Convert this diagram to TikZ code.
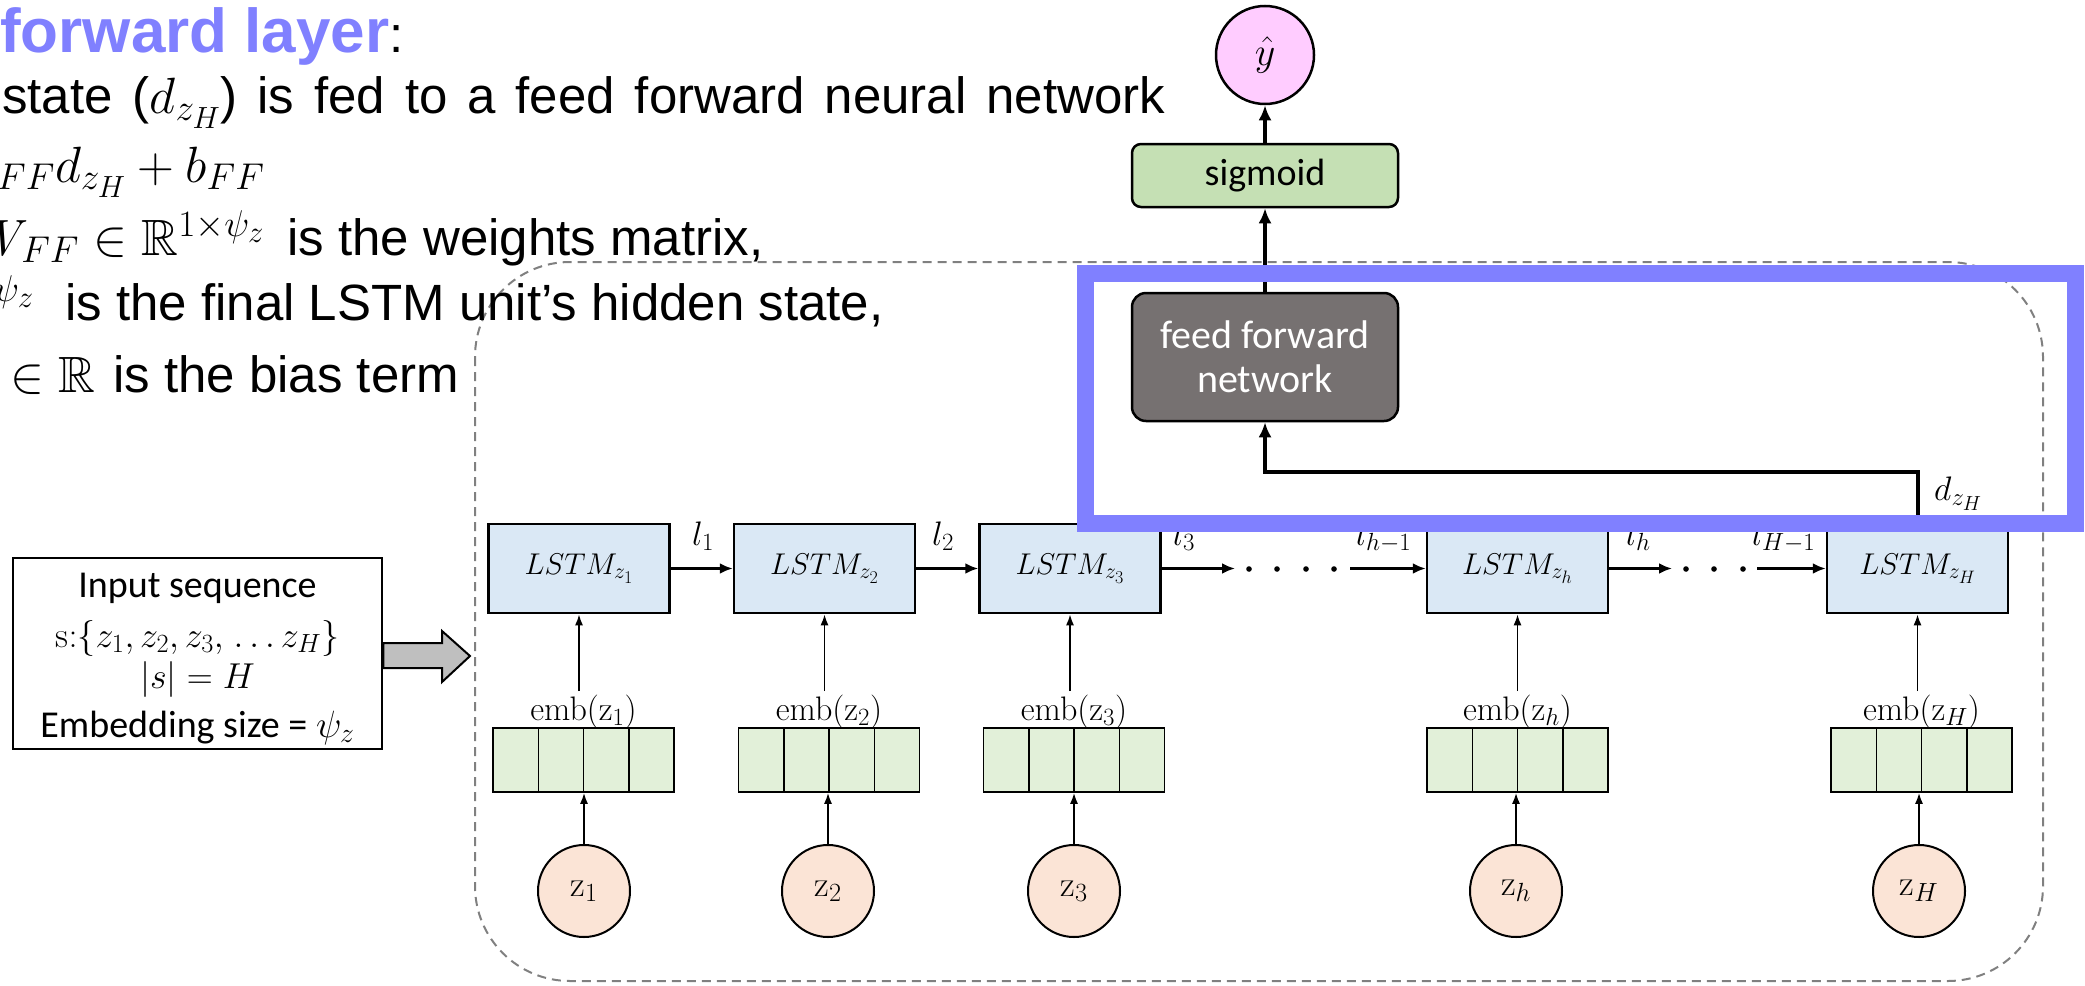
\RequirePackage{fix-cm}
\documentclass[tikz,border=0pt]{standalone}
\usepackage{amsmath,amssymb}
\usepackage{fontspec}
\renewcommand\defaultscriptratio{.73}
\renewcommand\defaultscriptscriptratio{.6}
\newfontfamily\arialf{Liberation Sans}
\newfontfamily\calf{Carlito}
\usetikzlibrary{arrows.meta,calc}
\definecolor{lav}{RGB}{128,128,255}
\definecolor{lstmblue}{RGB}{218,232,245}
\definecolor{embgreen}{RGB}{226,240,217}
\definecolor{zpeach}{RGB}{251,228,214}
\definecolor{yhpink}{RGB}{255,204,255}
\definecolor{sigg}{RGB}{197,224,180}
\definecolor{ffgray}{RGB}{118,113,113}
\definecolor{dashg}{RGB}{128,128,128}
\definecolor{blockg}{RGB}{191,191,191}
\newcommand\bodyf{\arialf\fontsize{51}{60}\selectfont}
\begin{document}
\begin{tikzpicture}[x=1pt,y=-1pt,
  txt/.style={anchor=base west, inner sep=0},
  ctxt/.style={anchor=base, inner sep=0},
  lstmbox/.style={draw, line width=2.5, fill=lstmblue, minimum width=181, minimum height=89, inner sep=0, font=\fontsize{30}{36}\selectfont},
  embcells/.style={draw, line width=1.5, fill=embgreen, minimum width=181, minimum height=64, inner sep=0,
    path picture={\foreach \k in {1,2,3}{\draw[line width=1.5] ($(path picture bounding box.south west)!\k/4!(path picture bounding box.south east)$) -- ($(path picture bounding box.north west)!\k/4!(path picture bounding box.north east)$);}}},
  emblabel/.style={anchor=base, font=\fontsize{34}{40}\selectfont},
  zc/.style={circle, draw, line width=2, fill=zpeach, minimum size=92, inner sep=0, font=\fontsize{36}{42}\selectfont},
  llabel/.style={txt, font=\fontsize{34}{40}\selectfont},
  harrow/.style={line width=3, -{Latex[length=13,width=11]}},
  varrow/.style={line width=1.8, -{Latex[length=11,width=8]}},
  bigarrow/.style={line width=4, -{Latex[length=15,width=13]}},
  dotmark/.style={fill=black},
]
\useasboundingbox (0,0) rectangle (2085,985);

% dashed frame
\draw[dashg, line width=2, dash pattern=on 9 off 6, rounded corners=95] (475,262) rectangle (2043,981);

% left text
\node[txt, font=\arialf\fontsize{62}{70}\selectfont\bfseries, text=lav] (title) at (0,52) {forward layer};
\node[txt, font=\bodyf] (colon) at (title.base east) {:};
\node[txt, font=\bodyf] (ln2) at (2,113) {\makebox[1163pt][s]{state ($d_{z_H}$) is fed to a feed forward neural network}};
\node[txt, font=\bodyf] (ln3) at (-3,182) {${}_{FF}d_{z_H}+b_{FF}$};
\node[txt, font=\bodyf] (ln4m) at (-26,255) {$W_{FF}\in\mathbb{R}^{1\times\psi_z}$};
\node[txt, font=\bodyf] (ln4t) at (287,255) {is the weights matrix,};
\node[txt, font=\bodyf] (ln5m) at (-6,320) {${}^{\psi_z}$};
\node[txt, font=\bodyf] (ln5t) at (65,320) {is the final LSTM unit’s hidden state,};
\node[txt, font=\bodyf] (ln6m) at (10,392) {$\in\mathbb{R}$};
\node[txt, font=\bodyf] (ln6t) at (113,392) {is the bias term};

% input box
\node[draw, line width=2.5, minimum width=369, minimum height=191, inner sep=0] (inp) at (197.5,653.5) {};
\node[ctxt, font=\calf\fontsize{38}{44}\selectfont] (in1) at (197.5,597) {Input sequence};
\node[ctxt, font=\fontsize{36}{42}\selectfont] (in2) at (197.5,647) {$\mathrm{s}{:}\{z_1{,}\,z_2{,}\,z_3{,}\;{\ldots}\,z_H\}$};
\node[ctxt, font=\fontsize{36}{42}\selectfont] (in3) at (197.5,688) {$|s| = H$};
\node[ctxt, font=\calf\fontsize{38}{44}\selectfont] (in4) at (197.5,737) {Embedding size = $\psi_z$};
\draw[line width=2, fill=blockg, line join=miter] (inp.east |- 0,643) -- (442,643) -- (442,631) -- (470,656) -- (442,682) -- (442,668) -- (inp.east |- 0,668) -- cycle;

% LSTM cells
\node[lstmbox] (l1) at (579,568.5) {$LSTM_{z_1}$};
\node[lstmbox] (l2) at (824.5,568.5) {$LSTM_{z_2}$};
\node[lstmbox] (l3) at (1070,568.5) {$LSTM_{z_3}$};
\node[lstmbox] (lh) at (1517.5,568.5) {$LSTM_{z_h}$};
\node[lstmbox] (lH) at (1917.5,568.5) {$LSTM_{z_H}$};

% embeddings
\node[embcells] (e1) at (583.5,760) {};
\node[embcells] (e2) at (829,760) {};
\node[embcells] (e3) at (1074,760) {};
\node[embcells] (eh) at (1517.5,760) {};
\node[embcells] (eH) at (1921.5,760) {};
\node[emblabel] (el1) at (583.5,720) {emb(z$_1$)};
\node[emblabel] (el2) at (829,720) {emb(z$_2$)};
\node[emblabel] (el3) at (1074,720) {emb(z$_3$)};
\node[emblabel] (elh) at (1517.5,720) {emb(z$_h$)};
\node[emblabel] (elH) at (1921.5,720) {emb(z$_H$)};

% inputs
\node[zc] (z1) at (584,891) {$\mathrm{z}_1$};
\node[zc] (z2) at (828,891) {$\mathrm{z}_2$};
\node[zc] (z3) at (1074,891) {$\mathrm{z}_3$};
\node[zc] (zh) at (1516,891) {$\mathrm{z}_h$};
\node[zc] (zH) at (1919,891) {$\mathrm{z}_H$};

\foreach \a/\b in {1/1,2/2,3/3,h/h,H/H}{
  \draw[varrow] (z\a.north) -- (z\a.north |- e\b.south);
  \draw[varrow] (l\b.south |- el\b.north) -- (l\b.south);
}

% recurrent chain
\draw[harrow] (l1.east) -- (l2.west);
\draw[harrow] (l2.east) -- (l3.west);
\coordinate (c3) at (1235,568.5);
\coordinate (c4) at (1350,568.5);
\coordinate (c5) at (1672,568.5);
\coordinate (c6) at (1757,568.5);
\draw[harrow] (l3.east) -- (c3);
\draw[harrow] (c4) -- (lh.west);
\draw[harrow] (lh.east) -- (c5);
\draw[harrow] (c6) -- (lH.west);
\foreach \x in {1249,1277,1306,1334,1686,1714,1743}{\fill[dotmark] (\x,569) circle (2.8);}
\node[llabel] (t1) at (692,545) {$l_1$};
\node[llabel] (t2) at (932,545) {$l_2$};
\node[llabel] (t3) at (1173,545) {$l_3$};
\node[llabel] (th1) at (1356,545) {$l_{h-1}$};
\node[llabel] (th) at (1626,545) {$l_h$};
\node[llabel] (tH1) at (1752,545) {$l_{H-1}$};

% head
\node[draw, line width=2.5, fill=ffgray, rounded corners=14, minimum width=266, minimum height=128, inner sep=0, text=white, align=center, font=\calf\fontsize{40}{44}\selectfont] (ff) at (1265,357) {feed forward\\network};
\node[draw, line width=2.5, fill=sigg, rounded corners=9, minimum width=266, minimum height=63, inner sep=0, font=\calf\fontsize{38}{44}\selectfont] (sig) at (1265,175.5) {sigmoid};
\node[circle, draw, line width=2.5, fill=yhpink, minimum size=98, inner sep=0, font=\fontsize{40}{46}\selectfont] (yh) at (1265,55) {$\hat{y}$};
\draw[bigarrow] (ff.north) -- (sig.south);
\draw[bigarrow] (sig.north) -- (yh.south);
\coordinate (turn) at (1917.5,472);
\draw[bigarrow, line join=miter] (lH.north) -- (turn) -| (ff.south);
\node[txt, font=\fontsize{34}{40}\selectfont] (dzh) at (1934,500) {$d_{z_H}$};

% highlight
\draw[lav, line width=17] (1085.5,273.5) rectangle (2075.5,523.5);
\end{tikzpicture}
\end{document}
